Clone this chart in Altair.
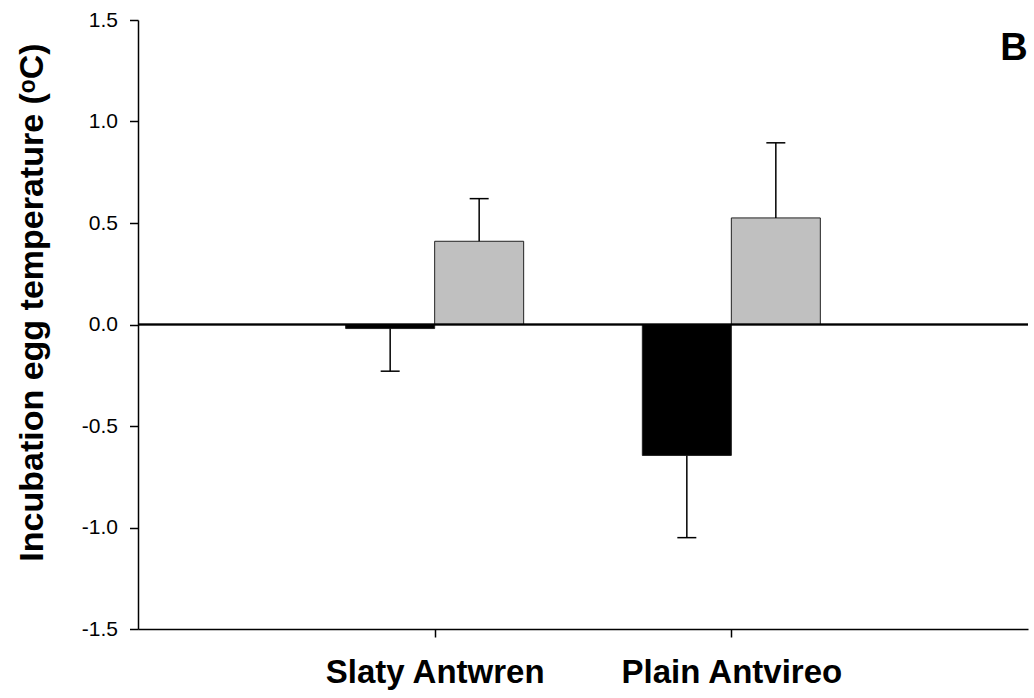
import altair as alt
import pandas as pd

# Mean change in incubation egg temperature with standard errors
species = ["Slaty Antwren", "Plain Antvireo"]
treatments = ["black", "grey"]
black_means = [-0.02, -0.645]
black_se = [0.21, 0.405]
grey_means = [0.41, 0.525]
grey_se = [0.21, 0.37]

BAR_W = 0.3      # bar width in x-axis units
CAP_HALF = 0.032  # half-width of the error-bar caps

rows = []
for i, sp in enumerate(species):
    pos = i + 1
    for trt, means, ses, off in (("black", black_means, black_se, -1),
                                 ("grey", grey_means, grey_se, 0)):
        m = means[i]
        s = ses[i]
        left = pos + off * BAR_W
        right = left + BAR_W
        mid = (left + right) / 2
        end = m + s if m >= 0 else m - s
        rows.append(dict(species=sp, treatment=trt, mean=m, end=end,
                         left=left, right=right, mid=mid,
                         cap_l=mid - CAP_HALF, cap_r=mid + CAP_HALF))
df = pd.DataFrame(rows)

W, H = 890, 609

x_scale = alt.Scale(domain=[0, 3], nice=False, zero=False)
y_scale = alt.Scale(domain=[-1.5, 1.5], nice=False)

x_label_expr = ("datum.value == 1 ? 'Slaty Antwren' : "
                "(datum.value == 2 ? 'Plain Antvireo' : '')")
y_label_expr = "replace(format(datum.value, '.1f'), '\u2212', '-')"

bars = alt.Chart(df).mark_rect(stroke="#222222", strokeWidth=1).encode(
    x=alt.X("left:Q", scale=x_scale,
            axis=alt.Axis(values=[1, 2], labelExpr=x_label_expr, title=None,
                          grid=False, domainColor="black", domainWidth=1.5,
                          tickColor="black", tickWidth=1.5, tickSize=8,
                          labelFont="Liberation Sans", labelFontSize=33,
                          labelFontWeight="bold", labelColor="black",
                          labelBaseline="alphabetic", labelPadding=45,
                          labelLimit=0, labelFlush=False)),
    x2="right:Q",
    y=alt.Y("mean:Q", scale=y_scale,
            axis=alt.Axis(values=[-1.5, -1.0, -0.5, 0.0, 0.5, 1.0, 1.5],
                          labelExpr=y_label_expr, grid=False,
                          title="Incubation egg temperature (ᵒC)",
                          titleFont="Liberation Sans", titleFontSize=34,
                          titleFontWeight="bold", titleColor="black",
                          titleX=-96, titleY=282, titleAngle=-90,
                          titleAlign="center", titleBaseline="alphabetic",
                          titleLimit=0,
                          domainColor="black", domainWidth=1.5,
                          tickColor="black", tickWidth=1.5, tickSize=8.5,
                          labelFont="Liberation Sans", labelFontSize=21,
                          labelColor="black", labelPadding=12,
                          labelFlush=False)),
    y2=alt.datum(0),
    color=alt.Color("treatment:N",
                    scale=alt.Scale(domain=treatments,
                                    range=["#000000", "#c0c0c0"]),
                    legend=None),
)

zero_line = alt.Chart(df).mark_rule(color="black", strokeWidth=1.4).encode(
    y=alt.datum(0, scale=y_scale),
    x=alt.value(0),
    x2=alt.value(W),
)

whiskers = alt.Chart(df).mark_rule(color="black", strokeWidth=1.5).encode(
    x=alt.X("mid:Q", scale=x_scale),
    y=alt.Y("mean:Q", scale=y_scale),
    y2="end:Q",
)

caps = alt.Chart(df).mark_rule(color="black", strokeWidth=1.5).encode(
    x=alt.X("cap_l:Q", scale=x_scale),
    x2="cap_r:Q",
    y=alt.Y("end:Q", scale=y_scale),
)

panel_tag = alt.Chart(pd.DataFrame({"tag": ["B"]})).mark_text(
    font="Liberation Sans", fontSize=38, fontWeight="bold", color="black",
    align="center", baseline="alphabetic",
).encode(
    x=alt.value(876),
    y=alt.value(40),
    text="tag:N",
)

chart = alt.layer(bars, zero_line, whiskers, caps, panel_tag).properties(
    width=W,
    height=H,
    autosize=alt.AutoSizeParams(type="none"),
    padding={"left": 138, "top": 20, "right": 6, "bottom": 69},
    background="white",
).configure_view(stroke=None)

chart.save("out.html", embed_options={"renderer": "svg", "actions": False})
